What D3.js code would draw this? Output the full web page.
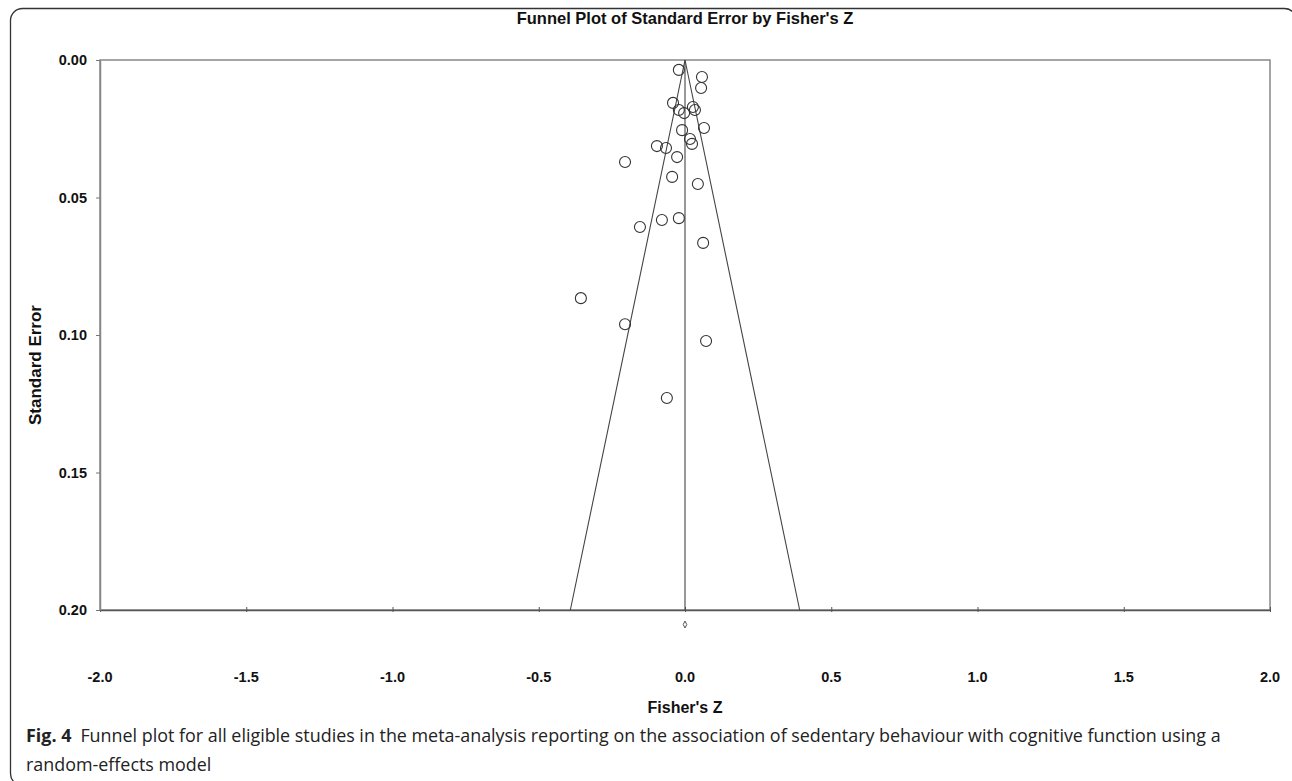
<!DOCTYPE html>
<html>
<head>
<meta charset="utf-8">
<script src="https://cdn.jsdelivr.net/npm/d3@7"></script>
<style>
  html, body { margin: 0; padding: 0; background: #fff; }
  svg { display: block; }
</style>
</head>
<body>
<svg id="chart" width="1292" height="781"></svg>
<script>
// ---- Data ----
const fisherZ = [-0.021, 0.058, 0.055, -0.041, 0.027, -0.021, 0.034, -0.003, 0.065, -0.010,
                 0.017, 0.024, -0.096, -0.065, -0.027, -0.205, -0.044, 0.044, -0.079, -0.021,
                 -0.154, 0.062, -0.356, -0.205, 0.072, -0.062];
const stdErr  = [0.0036, 0.0062, 0.0102, 0.0156, 0.0171, 0.0182, 0.0182, 0.0193, 0.0247, 0.0255,
                 0.0287, 0.0305, 0.0313, 0.0320, 0.0353, 0.0371, 0.0425, 0.0451, 0.0582, 0.0575,
                 0.0607, 0.0665, 0.0866, 0.0961, 0.1022, 0.1229];
const pooledZ = 0.0;
const pooledLo = -0.006, pooledHi = 0.006;
const xTicks = [-2.0, -1.5, -1.0, -0.5, 0.0, 0.5, 1.0, 1.5, 2.0];
const yTicks = [0.00, 0.05, 0.10, 0.15, 0.20];
const titleText = "Funnel Plot of Standard Error by Fisher's Z";
const xLabel = "Fisher's Z";
const yLabel = "Standard Error";

const svg = d3.select("#chart");
const L = 100, R = 1270, T = 60, B = 610;
const FONT = "Liberation Sans, Arial, sans-serif";

const x = d3.scaleLinear().domain([-2, 2]).range([L, R]);
const y = d3.scaleLinear().domain([0, 0.2]).range([T, B]);
const fmtX = v => d3.format(".1f")(v).replace("\u2212", "-");
const fmtY = v => d3.format(".2f")(v);

// outer frame (bottom and right edges fall just outside the picture)
svg.append("rect").attr("x", 10.5).attr("y", 8.5).attr("width", 1286).attr("height", 777)
  .attr("rx", 12).attr("fill", "none").attr("stroke", "#333").attr("stroke-width", 1.3);

// title
svg.append("text").attr("x", 685).attr("y", 24).attr("text-anchor", "middle")
  .attr("font-family", FONT).attr("font-weight", "bold")
  .attr("font-size", 16.5).attr("fill", "#111").text(titleText);

// plot box
svg.append("rect").attr("x", L).attr("y", T).attr("width", R - L).attr("height", B - T)
  .attr("fill", "none").attr("stroke", "#888").attr("stroke-width", 1.5);

// x axis
const xAxis = d3.axisBottom(x).tickValues(xTicks).tickSizeInner(3).tickSizeOuter(0).tickFormat("");
const gx = svg.append("g").attr("transform", `translate(0,${B})`).call(xAxis);
gx.select(".domain").attr("stroke", "#555").attr("stroke-width", 1.5);
gx.selectAll(".tick line").attr("y1", -3).attr("y2", 2).attr("stroke", "#555");
svg.append("g").selectAll("text").data(xTicks).join("text")
  .attr("x", d => x(d)).attr("y", 682).attr("text-anchor", "middle")
  .attr("font-family", FONT).attr("font-weight", "bold")
  .attr("font-size", 14.5).attr("fill", "#111").text(fmtX);

// y axis
const yAxis = d3.axisLeft(y).tickValues(yTicks).tickSizeInner(4).tickSizeOuter(0).tickFormat("");
const gy = svg.append("g").attr("transform", `translate(${L},0)`).call(yAxis);
gy.select(".domain").attr("stroke", "#888").attr("stroke-width", 1.5);
gy.selectAll(".tick line").attr("stroke", "#777");
svg.append("g").selectAll("text").data(yTicks).join("text")
  .attr("x", 87).attr("y", d => y(d) + 5).attr("text-anchor", "end")
  .attr("font-family", FONT).attr("font-weight", "bold")
  .attr("font-size", 14.5).attr("fill", "#111").text(fmtY);

// axis titles
svg.append("text").attr("x", 685).attr("y", 713).attr("text-anchor", "middle")
  .attr("font-family", FONT).attr("font-weight", "bold")
  .attr("font-size", 16).attr("fill", "#111").text(xLabel);
svg.append("text").attr("transform", `translate(41,365) rotate(-90)`)
  .attr("text-anchor", "middle")
  .attr("font-family", FONT).attr("font-weight", "bold")
  .attr("font-size", 17).attr("fill", "#111").text(yLabel);

// funnel lines
const seMax = 0.2;
const funnel = [[pooledZ - 1.96 * seMax, seMax], [pooledZ, 0], [pooledZ + 1.96 * seMax, seMax]];
svg.append("path").datum(funnel)
  .attr("d", d3.line().x(d => x(d[0])).y(d => y(d[1])))
  .attr("fill", "none").attr("stroke", "#444").attr("stroke-width", 1.1);
svg.append("line").attr("x1", x(pooledZ)).attr("x2", x(pooledZ)).attr("y1", y(0)).attr("y2", y(seMax))
  .attr("stroke", "#444").attr("stroke-width", 1.1);

// pooled diamond
const dy = 624.5;
svg.append("path")
  .attr("d", `M${x(pooledLo)},${dy} L${x(pooledZ)},${dy - 3.5} L${x(pooledHi)},${dy} L${x(pooledZ)},${dy + 3.5} Z`)
  .attr("fill", "none").attr("stroke", "#555").attr("stroke-width", 1);

// study points
svg.append("g").selectAll("circle").data(fisherZ.map((z, i) => [z, stdErr[i]])).join("circle")
  .attr("cx", d => x(d[0])).attr("cy", d => y(d[1])).attr("r", 5.5)
  .attr("fill", "none").attr("stroke", "#333").attr("stroke-width", 1.1);

// caption
const CAPFONT = "Open Sans, Noto Sans, sans-serif";
const cap = svg.append("text").attr("x", 26).attr("y", 742)
  .attr("font-family", CAPFONT).attr("font-size", 17.9).attr("fill", "#222");
cap.append("tspan").attr("font-weight", "bold").text("Fig. 4");
cap.append("tspan").attr("dx", 9)
  .text("Funnel plot for all eligible studies in the meta-analysis reporting on the association of sedentary behaviour with cognitive function using a");
svg.append("text").attr("x", 26).attr("y", 771)
  .attr("font-family", CAPFONT).attr("font-size", 17.9).attr("fill", "#222")
  .text("random-effects model");
</script>
</body>
</html>
